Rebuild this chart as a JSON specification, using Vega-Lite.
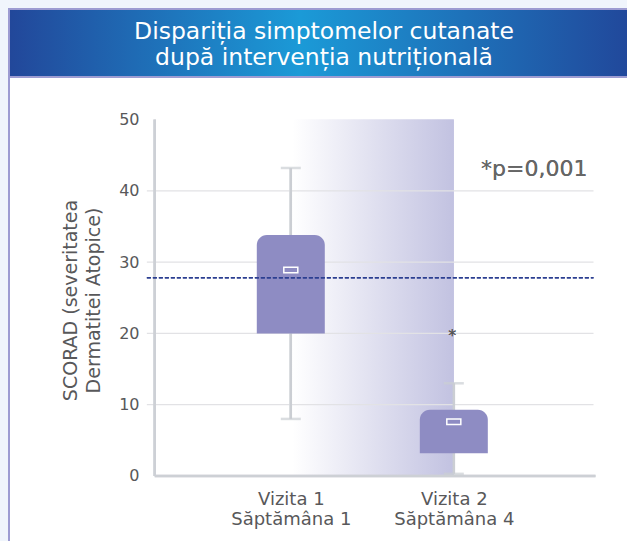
{
  "$schema": "https://vega.github.io/schema/vega-lite/v6.json",
  "background": "#f0f5fc",
  "padding": {"left": 8, "top": 8, "right": 0, "bottom": 0},
  "spacing": 0,
  "bounds": "flush",
  "config": {"font": "DejaVu Sans", "view": {"stroke": null}},
  "datasets": {
    "boxes": [
      {"visit": 1, "name": "Vizita 1 – Săptămâna 1", "min": 8.0, "q1": 20.0, "median": 28.9, "q3": 33.8, "max": 43.2},
      {"visit": 2, "name": "Vizita 2 – Săptămâna 4", "min": 0.3, "q1": 3.2, "median": 7.6, "q3": 9.3, "max": 13.0}
    ],
    "grid": [{"g": 10}, {"g": 20}, {"g": 30}, {"g": 40}]
  },
  "vconcat": [
    {
      "width": 620,
      "height": 68,
      "data": {"values": [{"t": 1}]},
      "layer": [
        {
          "mark": {
            "type": "rect",
            "stroke": "#9d9cd2",
            "strokeWidth": 2,
            "fill": {
              "gradient": "linear",
              "x1": 0, "x2": 1, "y1": 0, "y2": 0,
              "stops": [
                {"offset": 0, "color": "#22479a"},
                {"offset": 0.47, "color": "#1b9ad7"},
                {"offset": 1, "color": "#21489b"}
              ]
            }
          },
          "encoding": {}
        },
        {
          "mark": {"type": "text", "color": "white", "fontSize": 23.5, "lineHeight": 26, "baseline": "middle", "align": "center", "dx": 5, "dy": -11},
          "encoding": {"text": {"value": ["Dispariția simptomelor cutanate", "după intervenția nutrițională"]}}
        }
      ]
    },
    {
      "width": 620,
      "height": 466,
      "view": {"fill": "white", "stroke": "#9d9cd2", "strokeWidth": 2},
      "data": {"name": "boxes"},
      "layer": [
        {
          "mark": {"type": "rule", "color": "#cbced3", "strokeWidth": 2.5},
          "encoding": {
            "x": {
              "field": "visit", "type": "quantitative",
              "scale": {"domain": [-0.698, 3.044], "nice": false, "zero": false},
              "axis": {
                "orient": "bottom",
                "values": [1, 2], "offset": -67, "domain": false, "ticks": false, "grid": false,
                "labelExpr": "datum.value == 1 ? ['Vizita 1', 'Săptămâna 1'] : ['Vizita 2', 'Săptămâna 4']",
                "labelFontSize": 18, "labelLineHeight": 20, "labelColor": "#58585a", "labelPadding": 14,
                "labelFlush": false, "labelOverlap": false, "title": null
              }
            },
            "y": {
              "field": "min", "type": "quantitative",
              "scale": {"domain": [-9.4, 55.96], "nice": false, "zero": false},
              "axis": {
                "orient": "left",
                "values": [0, 10, 20, 30, 40, 50], "offset": -143, "domain": false, "ticks": false, "grid": false,
                "labelFontSize": 16, "labelColor": "#58585a", "labelPadding": 13, "labelFlush": false, "labelOverlap": false,
                "title": ["SCORAD (severitatea", "Dermatitei Atopice)"],
                "titleFontSize": 19, "titleFontWeight": "normal", "titleColor": "#58585a", "titleLineHeight": 23,
                "titlePadding": 15, "titleY": 223
              }
            },
            "y2": {"field": "max"}
          }
        },
        {
          "mark": {
            "type": "rect",
            "fill": {
              "gradient": "linear",
              "x1": 0, "x2": 1, "y1": 0, "y2": 0,
              "stops": [
                {"offset": 0, "color": "#ffffff"},
                {"offset": 1, "color": "#c2c2e1"}
              ]
            }
          },
          "encoding": {
            "x": {"datum": 1.01, "type": "quantitative"},
            "x2": {"datum": 2},
            "y": {"datum": 0, "type": "quantitative"},
            "y2": {"datum": 50}
          }
        },
        {
          "data": {"name": "grid"},
          "mark": {"type": "rule", "color": "#e2e2e5", "strokeWidth": 1.2},
          "encoding": {
            "x": {"datum": 0.117, "type": "quantitative"},
            "x2": {"datum": 2.857},
            "y": {"field": "g", "type": "quantitative"}
          }
        },
        {
          "mark": {"type": "rule", "color": "#cdd0d5", "strokeWidth": 2.5},
          "encoding": {
            "x": {"datum": 0.165, "type": "quantitative"},
            "y": {"datum": 0, "type": "quantitative"},
            "y2": {"datum": 50}
          }
        },
        {
          "mark": {"type": "rule", "color": "#cdd0d5", "strokeWidth": 2.5},
          "encoding": {
            "x": {"datum": 0.165, "type": "quantitative"},
            "x2": {"datum": 2.869},
            "y": {"datum": 0, "type": "quantitative"}
          }
        },
        {
          "mark": {"type": "rule", "color": "#cbced3", "strokeWidth": 2.5},
          "encoding": {
            "x": {"field": "visit", "type": "quantitative"},
            "y": {"field": "min", "type": "quantitative"},
            "y2": {"field": "max"}
          }
        },
        {
          "mark": {"type": "tick", "orient": "horizontal", "color": "#cbced3", "size": 20, "thickness": 2.5},
          "encoding": {
            "x": {"field": "visit", "type": "quantitative"},
            "y": {"field": "max", "type": "quantitative"}
          }
        },
        {
          "mark": {"type": "tick", "orient": "horizontal", "color": "#cbced3", "size": 20, "thickness": 2.5},
          "encoding": {
            "x": {"field": "visit", "type": "quantitative"},
            "y": {"field": "min", "type": "quantitative"}
          }
        },
        {
          "mark": {"type": "bar", "color": "#8e8cc3", "size": 68, "cornerRadiusTopLeft": 10, "cornerRadiusTopRight": 10},
          "encoding": {
            "x": {"field": "visit", "type": "quantitative"},
            "y": {"field": "q1", "type": "quantitative"},
            "y2": {"field": "q3"}
          }
        },
        {
          "mark": {"type": "point", "shape": "M-1,-0.4H1V0.4H-1Z", "size": 196, "filled": true, "fill": "#8e8cc3", "stroke": "#ffffff", "strokeWidth": 1.5, "opacity": 1},
          "encoding": {
            "x": {"field": "visit", "type": "quantitative"},
            "y": {"field": "median", "type": "quantitative"}
          }
        },
        {
          "mark": {"type": "rule", "color": "#2c3f91", "strokeWidth": 1.5, "strokeDash": [4, 2]},
          "encoding": {
            "x": {"datum": 0.117, "type": "quantitative"},
            "x2": {"datum": 2.857},
            "y": {"datum": 27.8, "type": "quantitative"}
          }
        },
        {
          "mark": {"type": "text", "fontSize": 16, "color": "#555555", "baseline": "middle", "align": "center"},
          "encoding": {
            "text": {"value": "*"},
            "x": {"datum": 1.99, "type": "quantitative"},
            "y": {"datum": 19.7, "type": "quantitative"}
          }
        },
        {
          "mark": {"type": "text", "fontSize": 22, "color": "#666666", "baseline": "middle", "align": "right"},
          "encoding": {
            "text": {"value": "*p=0,001"},
            "x": {"datum": 2.82, "type": "quantitative"},
            "y": {"datum": 43.1, "type": "quantitative"}
          }
        }
      ]
    }
  ]
}
